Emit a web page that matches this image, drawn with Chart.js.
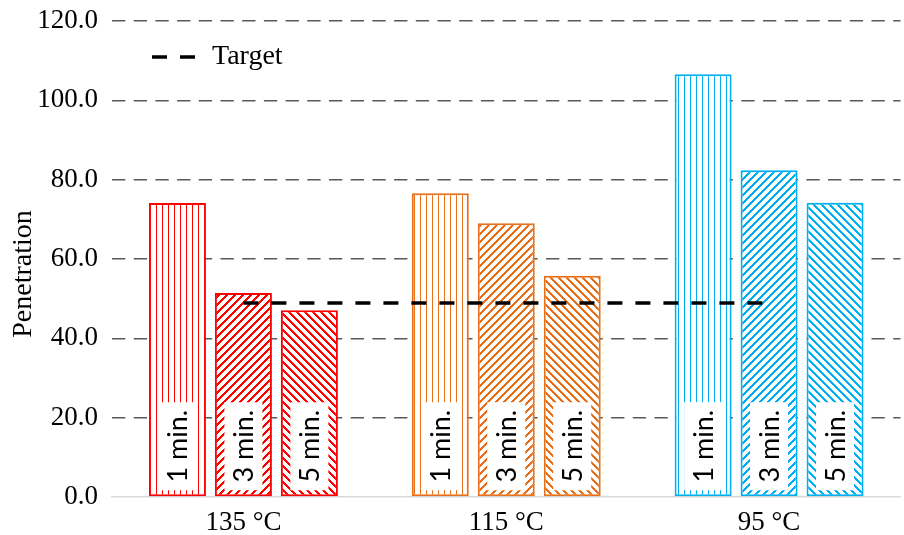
<!DOCTYPE html>
<html>
<head>
<meta charset="utf-8">
<script src="https://cdn.jsdelivr.net/npm/chart.js@4.4.1/dist/chart.umd.min.js"></script>
<style>
  html, body { margin: 0; padding: 0; background: #fff; }
  #wrap { width: 904px; height: 535px; }
</style>
</head>
<body>
<div id="wrap"><canvas id="chart" width="904" height="535"></canvas></div>
<script>
// data
const categories = ['135 °C', '115 °C', '95 °C'];
const timeLabels = ['1 min.', '3 min.', '5 min.'];
const oneMin   = [74.1, 76.6, 106.6];
const threeMin = [51.4, 69.0, 82.4];
const fiveMin  = [47.1, 55.8, 74.2];
const target   = [48.9, 48.9, 48.9];
const yTicks   = [0, 20, 40, 60, 80, 100, 120];
const yTitle   = 'Penetration';

const groupColors = ['#FF0000', '#E8701A', '#00B0F0'];
const serif = "'Times New Roman', 'Liberation Serif', serif";

// pixel hatch patterns, roughly like the office fill patterns
function makePattern(color, kind){
  const size = kind === 'vert' ? 6 : 8;
  const c = document.createElement('canvas');
  c.width = size; c.height = size;
  const g = c.getContext('2d');
  g.fillStyle = '#fff';
  g.fillRect(0, 0, size, size);
  g.fillStyle = color;
  for(let x = 0; x < size; x++){
    for(let y = 0; y < size; y++){
      let on = false;
      if(kind === 'vert') on = x % size === 0;
      else if(kind === 'up') on = ((x + y) % size) < 3;
      else on = (((x - y) % size) + size) % size < 3;
      if(on) g.fillRect(x, y, 1, 1);
    }
  }
  return document.getElementById('chart').getContext('2d').createPattern(c, 'repeat');
}

const kinds = ['vert', 'up', 'down'];
const seriesValues = [oneMin, threeMin, fiveMin];

const barSets = seriesValues.map((vals, i) => ({
  type: 'bar',
  label: timeLabels[i],
  data: vals,
  backgroundColor: groupColors.map(col => makePattern(col, kinds[i])),
  borderColor: groupColors,
  borderWidth: 2,
  borderSkipped: false,
  categoryPercentage: 0.753,
  barPercentage: 0.864,
  order: 1
}));

const targetSet = {
  type: 'line',
  label: 'Target',
  data: target,
  borderColor: '#000',
  borderWidth: 3.5,
  borderDash: [15, 13],
  pointRadius: 0,
  fill: false,
  order: 0
};

// white boxes with vertical "x min." text near the foot of every bar
const barLabels = {
  id: 'barLabels',
  afterDatasetsDraw(chart){
    const ctx = chart.ctx;
    chart.data.datasets.forEach((ds, di) => {
      if(ds.type !== 'bar') return;
      const meta = chart.getDatasetMeta(di);
      meta.data.forEach(el => {
        const base = el.base;
        ctx.save();
        ctx.fillStyle = '#fff';
        ctx.fillRect(el.x - 19, base - 94, 38, 88);
        ctx.translate(el.x, base - 50);
        ctx.rotate(-Math.PI / 2);
        ctx.fillStyle = '#000';
        ctx.font = "27px Lato, 'Open Sans', sans-serif";
        ctx.textAlign = 'center';
        ctx.textBaseline = 'middle';
        ctx.fillText(ds.label, 0, 1);
        ctx.restore();
      });
    });
  }
};

// legend in the upper left of the plot, and the y title
const extras = {
  id: 'extras',
  afterDraw(chart){
    const ctx = chart.ctx;
    const ds = chart.data.datasets.find(d => d.type === 'line');
    ctx.save();
    ctx.strokeStyle = ds.borderColor;
    ctx.lineWidth = ds.borderWidth;
    ctx.setLineDash(ds.borderDash);
    ctx.beginPath();
    ctx.moveTo(152, 57);
    ctx.lineTo(196, 57);
    ctx.stroke();
    ctx.setLineDash([]);
    ctx.fillStyle = '#000';
    ctx.font = '28px ' + serif;
    ctx.textBaseline = 'middle';
    ctx.fillText(ds.label, 212, 57);

    ctx.translate(24, 274);
    ctx.rotate(-Math.PI / 2);
    ctx.textAlign = 'center';
    ctx.font = '28px ' + serif;
    ctx.fillText(yTitle, 0, 0);
    ctx.restore();
  }
};

new Chart(document.getElementById('chart'), {
  data: { labels: categories, datasets: [...barSets, targetSet] },
  options: {
    responsive: false,
    animation: false,
    devicePixelRatio: 1,
    layout: { padding: { top: 21, right: 3.5, bottom: 0, left: 0 } },
    plugins: { legend: { display: false }, tooltip: { enabled: false } },
    scales: {
      x: {
        offset: true,
        grid: { display: false },
        border: { display: true, color: '#D9D9D9', width: 1.5 },
        ticks: { color: '#000', font: { family: serif, size: 27 }, padding: 2 },
        afterFit(s){ s.height = 38; s.paddingLeft = 0; s.paddingRight = 0; }
      },
      y: {
        min: 0, max: 120,
        afterBuildTicks(s){ s.ticks = yTicks.map(v => ({ value: v })); },
        grid: {
          drawTicks: false,
          lineWidth: 1.5,
          color: c => c.tick && c.tick.value === 0 ? 'rgba(0,0,0,0)' : '#595959'
        },
        border: { display: false, dash: [13.3, 8.4] },
        ticks: {
          color: '#000',
          padding: 14,
          font: { family: serif, size: 27 },
          callback: v => v.toFixed(1)
        },
        afterFit(s){ s.width = 112; s.paddingTop = 0; s.paddingBottom = 0; }
      }
    }
  },
  plugins: [barLabels, extras]
});
</script>
</body>
</html>
